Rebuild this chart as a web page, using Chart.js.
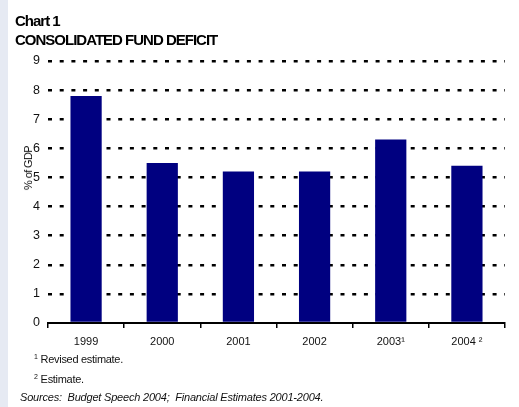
<!DOCTYPE html>
<html>
<head>
<meta charset="utf-8">
<script src="https://cdn.jsdelivr.net/npm/chart.js@4"></script>
<style>
    html, body { margin: 0; padding: 0; background: #fff; }
    #page { position: relative; width: 519px; height: 407px; overflow: hidden; font-family: "Liberation Sans", Arial, sans-serif; color: #111; }
    #strip { position: absolute; left: 0; top: 0; width: 8px; height: 407px; background: #e6eaf3; }
    #chart { position: absolute; left: 0; top: 0; }
    .title { position: absolute; left: 15px; top: 12px; font-weight: bold; font-size: 15px; line-height: 18.5px; letter-spacing: -1px; color: #000; }
    .ytitle { position: absolute; left: 28px; top: 168px; font-size: 11px; letter-spacing: -0.6px; white-space: nowrap; transform: translate(-50%, -50%) rotate(-90deg); }
    .note { position: absolute; font-size: 11px; line-height: 13px; white-space: nowrap; letter-spacing: -0.3px; }
    .note sup { font-size: 7px; vertical-align: 4px; margin-right: 3px; }
    .src { font-style: italic; letter-spacing: -0.2px; }
</style>
</head>
<body>
<div id="page">
    <div id="strip"></div>
    <canvas id="chart" width="519" height="407"></canvas>
    <div class="title">Chart 1<br>CONSOLIDATED FUND DEFICIT</div>
    <div class="ytitle">% of GDP</div>
    <div class="note" style="left:34px; top:350px;"><sup>1</sup>Revised estimate.</div>
    <div class="note" style="left:34px; top:370px;"><sup>2</sup>Estimate.</div>
    <div class="note src" style="left:20px; top:391px;">Sources:&nbsp; Budget Speech 2004;&nbsp; Financial Estimates 2001-2004.</div>
</div>
<script>
// Consolidated fund deficit, % of GDP
const years = ['1999', '2000', '2001', '2002', '2003\u00B9', '2004 \u00B2'];
const deficit = [7.8, 5.5, 5.2, 5.2, 6.3, 5.4];
const yTicks = [0, 1, 2, 3, 4, 5, 6, 7, 8, 9];

const deficitChart = new Chart(document.getElementById('chart').getContext('2d'), {
    type: 'bar',
    data: {
        labels: years,
        datasets: [{
            data: deficit,
            backgroundColor: '#000080',
            borderWidth: 0,
            barPercentage: 0.41,
            categoryPercentage: 1
        }]
    },
    options: {
        responsive: false,
        animation: false,
        layout: {
            padding: { top: 61, right: 14, left: 0, bottom: 0 }
        },
        plugins: {
            legend: { display: false },
            tooltip: { enabled: false }
        },
        scales: {
            x: {
                afterFit: scale => { scale.height = 84; },
                border: { display: true, color: '#000', width: 2 },
                grid: {
                    display: true,
                    offset: true,
                    drawOnChartArea: false,
                    drawTicks: true,
                    tickLength: 5,
                    color: '#000',
                    lineWidth: 1.5
                },
                ticks: {
                    padding: 7,
                    color: '#111',
                    font: { family: '"Liberation Sans", Arial, sans-serif', size: 11 }
                }
            },
            y: {
                min: 0,
                max: 9,
                afterFit: scale => { scale.width = 48; },
                afterBuildTicks: scale => {
                    scale.ticks = yTicks.map(v => ({ value: v }));
                },
                // in v4 the grid line dash pattern lives under border
                border: { display: false, dash: [4, 7.7] },
                grid: {
                    drawTicks: false,
                    lineWidth: 2.5,
                    color: ctx => (ctx.tick && ctx.tick.value === 0) ? 'rgba(0,0,0,0)' : '#000'
                },
                ticks: {
                    padding: 8,
                    color: '#111',
                    font: { family: '"Liberation Sans", Arial, sans-serif', size: 12.5 }
                }
            }
        }
    }
});
</script>
</body>
</html>
